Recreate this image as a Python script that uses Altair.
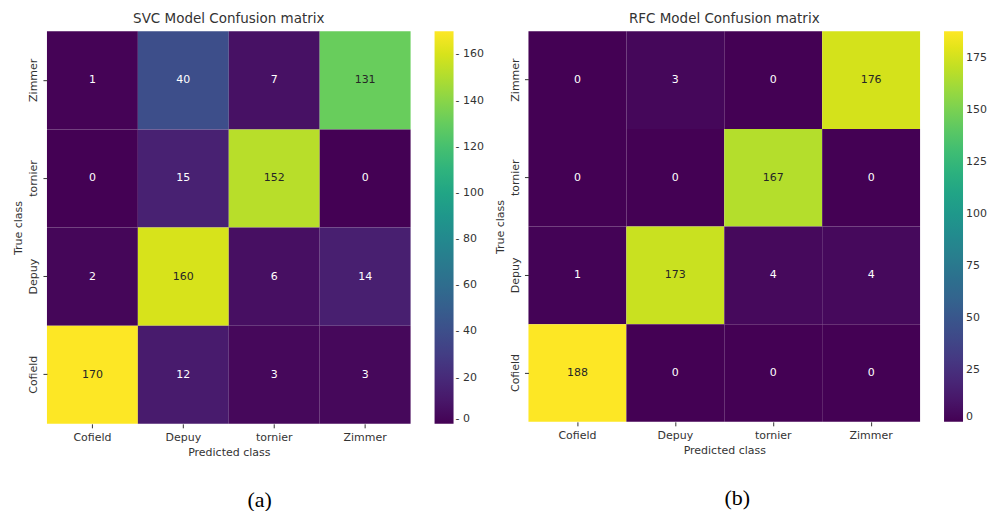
import altair as alt
import pandas as pd

pred_classes = ["Cofield", "Depuy", "tornier", "Zimmer"]
true_classes = ["Zimmer", "tornier", "Depuy", "Cofield"]  # top to bottom

svc_zimmer = [1, 40, 7, 131]
svc_tornier = [0, 15, 152, 0]
svc_depuy = [2, 160, 6, 14]
svc_cofield = [170, 12, 3, 3]

rfc_zimmer = [0, 3, 0, 176]
rfc_tornier = [0, 0, 167, 0]
rfc_depuy = [1, 173, 4, 4]
rfc_cofield = [188, 0, 0, 0]

svc_ticks = [0, 20, 40, 60, 80, 100, 120, 140, 160]
rfc_ticks = [0, 25, 50, 75, 100, 125, 150, 175]


def to_df(rows):
    recs = []
    for t, vals in zip(true_classes, rows):
        for p, v in zip(pred_classes, vals):
            recs.append({"true": t, "pred": p, "v": v})
    return pd.DataFrame(recs)


def panel(rows, title, ticks, vmax, sub, W, H, subx, lexpr, loff):
    df = to_df(rows)
    base = alt.Chart(df)
    sc = alt.Scale(scheme="viridis", domain=[0, vmax])
    rect = base.mark_rect(strokeWidth=0).encode(
        x=alt.X("pred:N", sort=pred_classes, title="Predicted class",
                axis=alt.Axis(labelAngle=0)),
        y=alt.Y("true:N", sort=true_classes, title="True class",
                axis=alt.Axis(labelAngle=-90)),
        color=alt.Color("v:Q", scale=sc,
                        legend=alt.Legend(title=None, values=ticks, type="gradient",
                                          gradientLength=H, gradientThickness=19,
                                          labelFontSize=11, labelColor="#333",
                                          labelFont="DejaVu Sans", labelOffset=loff,
                                          labelExpr=lexpr,
                                          offset=24, direction="vertical",
                                          orient="right")),
    )
    txt = base.mark_text(font="DejaVu Sans", fontSize=11).encode(
        x=alt.X("pred:N", sort=pred_classes),
        y=alt.Y("true:N", sort=true_classes),
        text="v:Q",
        color=alt.when(alt.datum.v > 100).then(alt.value("#262626")).otherwise(alt.value("white")),
    )
    lab = alt.Chart(pd.DataFrame({"lab": [sub]})).mark_text(
        font="Liberation Serif", fontSize=22, color="black"
    ).encode(text="lab:N", x=alt.value(subx), y=alt.value(H + 76))
    return alt.layer(rect, txt, lab).properties(
        width=W, height=H,
        title=alt.TitleParams(title, fontSize=13.5, fontWeight="normal",
                              font="DejaVu Sans", color="#333", offset=6),
    )


left = panel([svc_zimmer, svc_tornier, svc_depuy, svc_cofield],
             "SVC Model Confusion matrix", svc_ticks, 170, "(a)", 364, 393, 213,
             "'- ' + datum.label", 2)
right = panel([rfc_zimmer, rfc_tornier, rfc_depuy, rfc_cofield],
              "RFC Model Confusion matrix", rfc_ticks, 188, "(b)", 392, 391, 209,
              "datum.label", 3)

chart = alt.hconcat(left, right, spacing=10).resolve_scale(
    color="independent").resolve_legend(
    color="independent").configure_view(
    strokeWidth=0).configure_axis(
    labelFont="DejaVu Sans", labelFontSize=11, labelColor="#333",
    titleFont="DejaVu Sans", titleFontSize=11, titleFontWeight="normal",
    titleColor="#333", tickColor="#333", tickSize=4, domain=False, grid=False,
    labelPadding=4, titlePadding=4,
).properties(padding={"left": 5, "top": 3, "right": 0, "bottom": 0})

chart.save("out.html", embed_options={"renderer": "svg", "actions": False})
